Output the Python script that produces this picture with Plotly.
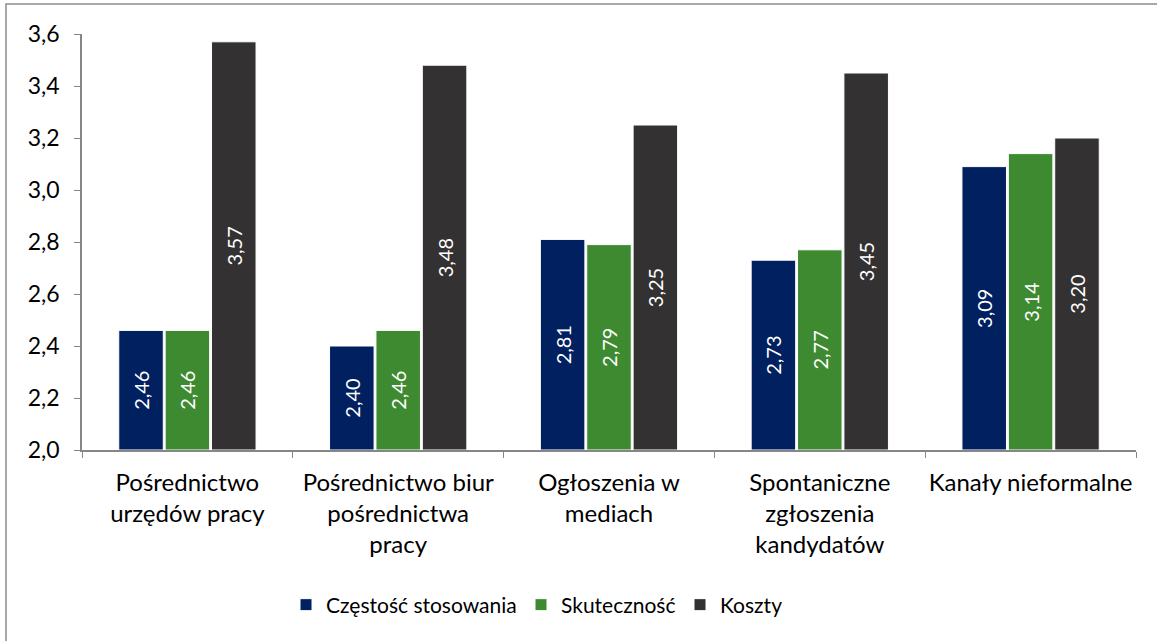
import plotly.graph_objects as go

categories = [
    "Pośrednictwo<br>urzędów pracy",
    "Pośrednictwo biur<br>pośrednictwa<br>pracy",
    "Ogłoszenia w<br>mediach",
    "Spontaniczne<br>zgłoszenia<br>kandydatów",
    "Kanały nieformalne",
]
czestosc = [2.46, 2.40, 2.81, 2.73, 3.09]
skutecznosc = [2.46, 2.46, 2.79, 2.77, 3.14]
koszty = [3.57, 3.48, 3.25, 3.45, 3.20]
series_names = ["Częstość stosowania", "Skuteczność", "Koszty"]
colors = ["#002060", "#3E8A31", "#333132"]
Y_MIN, Y_MAX = 2.0, 3.6

FONT = "Lato, 'Noto Sans', sans-serif"

W, H = 1157, 641
L, R, T, B = 82, 21, 34, 191
pw, ph = W - L - R, H - T - B

def px_x(x):
    return (x - L) / pw

def px_y(y):
    return (H - B - y) / ph

legend_ids = ["legend", "legend2", "legend3"]
legend_text_x = [326, 561, 720]  # where the legend texts start in the picture

fig = go.Figure()
for name, vals, col, lid in zip(series_names, [czestosc, skutecznosc, koszty], colors, legend_ids):
    fig.add_trace(go.Bar(
        x=categories, y=[v - Y_MIN for v in vals], base=Y_MIN, name=name,
        marker=dict(color=col, line=dict(color="white", width=1)),
        text=[f"{v:.2f}".replace(".", ",") for v in vals],
        textposition="inside", insidetextanchor="middle",
        textangle=-90, textfont=dict(color="white", size=20, family=FONT),
        legend=lid,
    ))

legend_layout = {}
for lid, tx in zip(legend_ids, legend_text_x):
    legend_layout[lid] = dict(
        orientation="h", x=px_x(tx - 40), xanchor="left", y=px_y(605), yanchor="middle",
        font=dict(size=21, family=FONT), itemwidth=30, bgcolor="rgba(0,0,0,0)",
    )

fig.update_layout(
    width=W, height=H,
    margin=dict(l=L, r=R, t=T, b=B, autoexpand=False),
    paper_bgcolor="white", plot_bgcolor="white",
    barmode="group", bargap=0.34, bargroupgap=0.04,
    separators=", ",
    font=dict(family=FONT, size=22, color="black"),
    showlegend=True,
    uniformtext=dict(minsize=20, mode="show"),
    shapes=[dict(type="rect", xref="paper", yref="paper",
                 x0=px_x(6), x1=px_x(1170), y0=px_y(660), y1=px_y(4),
                 line=dict(color="#8C8C8C", width=1.5), fillcolor="rgba(0,0,0,0)", layer="below")],
    **legend_layout,
)
fig.update_yaxes(range=[Y_MIN, Y_MAX], dtick=0.2, tickformat=".1f", showgrid=False,
                 showline=True, linecolor="#868686", linewidth=1.5, automargin=False,
                 ticks="outside", ticklen=6, tickcolor="#868686", ticklabelstandoff=10,
                 tickfont=dict(size=23, family=FONT), zeroline=False)
fig.update_xaxes(showgrid=False, showline=True, linecolor="#868686", linewidth=1.5,
                 ticks="outside", ticklen=6, tickcolor="#868686", tickson="boundaries",
                 ticklabelstandoff=10, tickangle=0, automargin=False,
                 tickfont=dict(size=24, family=FONT))

fig.write_html("out.html", config={"displayModeBar": False},
               post_script="document.body.style.margin='0';document.body.style.overflow='hidden';")
